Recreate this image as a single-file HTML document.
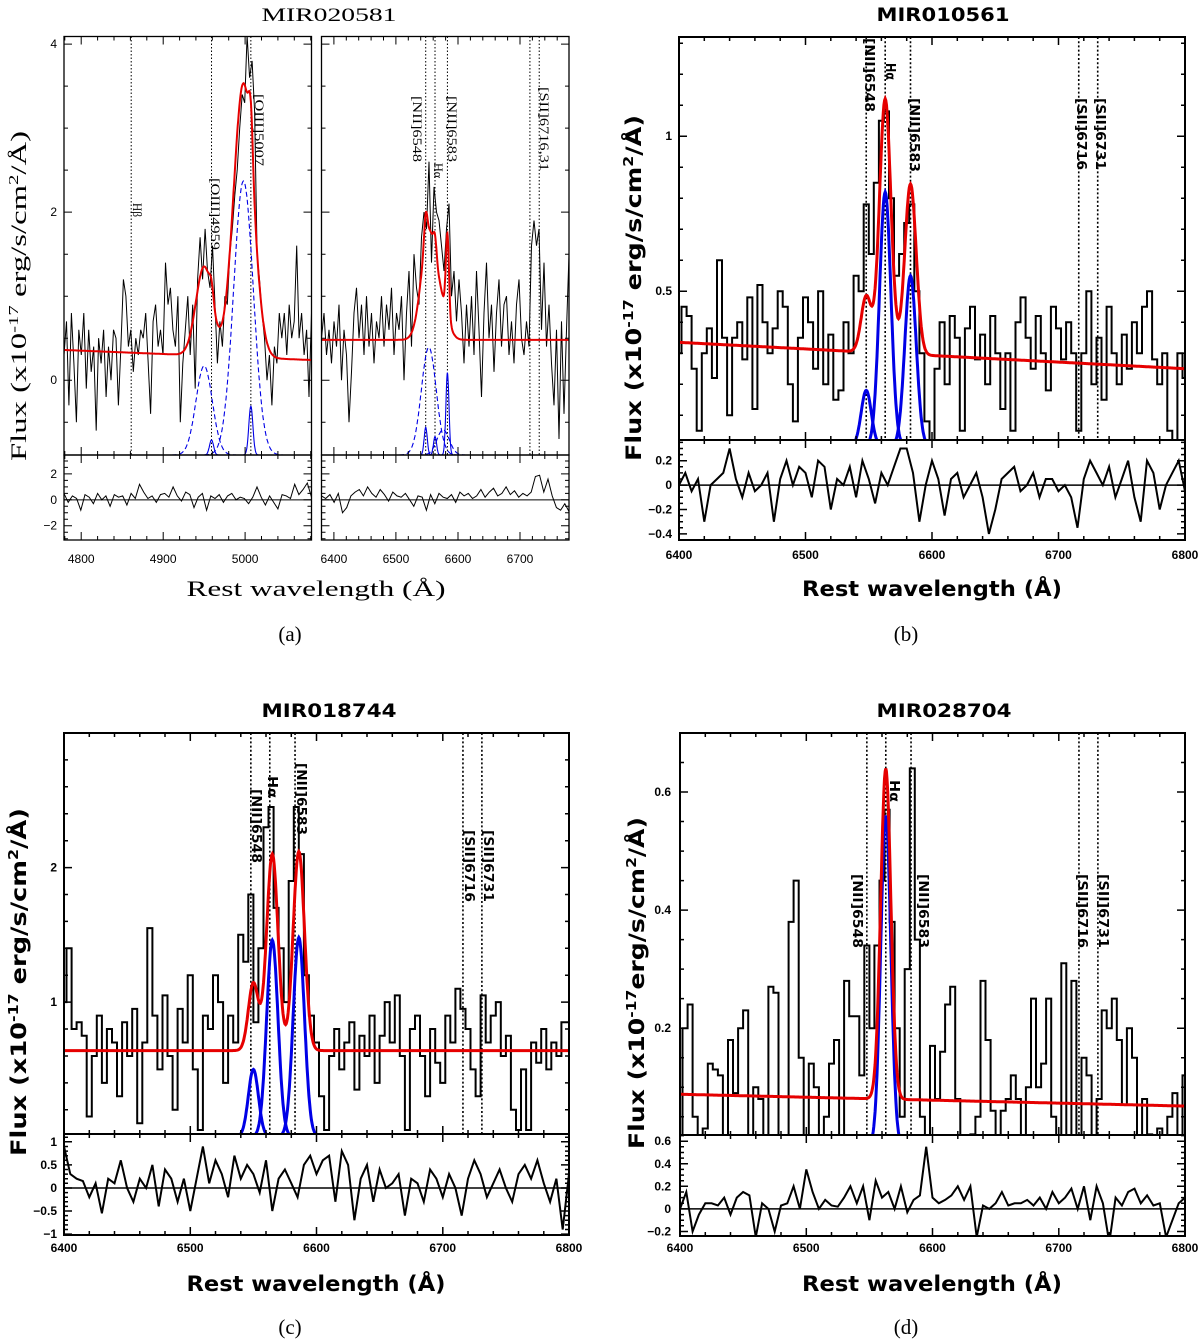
<!DOCTYPE html>
<html><head><meta charset="utf-8"><title>Emission line spectra fits</title>
<style>
html,body{margin:0;padding:0;background:#fff;}
svg{display:block;}
.ser{font-family:"Liberation Serif","DejaVu Serif",serif;}
.bold{font-family:"DejaVu Sans","Liberation Sans",sans-serif;font-weight:bold;}
.tick{font-family:"Liberation Sans",sans-serif;font-size:12px;}
.btick{font-family:"Liberation Sans",sans-serif;font-size:12px;font-weight:bold;}
</style></head>
<body>
<svg id="fig" width="1200" height="1344" viewBox="0 0 1200 1344" xmlns="http://www.w3.org/2000/svg">
<defs id="defs"></defs>
<rect x="0" y="0" width="1200" height="1344" fill="#fff"/>
<!-- Titles -->
<text class="ser" x="329" y="21" font-size="19" text-anchor="middle" textLength="135" lengthAdjust="spacingAndGlyphs">MIR020581</text>
<text class="bold" x="943" y="21" font-size="19" text-anchor="middle" textLength="133" lengthAdjust="spacingAndGlyphs">MIR010561</text>
<text class="bold" x="329" y="717" font-size="19" text-anchor="middle" textLength="135" lengthAdjust="spacingAndGlyphs">MIR018744</text>
<text class="bold" x="944" y="717" font-size="19" text-anchor="middle" textLength="135" lengthAdjust="spacingAndGlyphs">MIR028704</text>
<!-- x-axis titles -->
<text class="ser" x="316" y="596" font-size="22" text-anchor="middle" textLength="259" lengthAdjust="spacingAndGlyphs">Rest wavelength (Å)</text>
<text class="bold" x="932" y="596" font-size="21" text-anchor="middle" textLength="260" lengthAdjust="spacingAndGlyphs">Rest wavelength (Å)</text>
<text class="bold" x="316" y="1291" font-size="21" text-anchor="middle" textLength="259" lengthAdjust="spacingAndGlyphs">Rest wavelength (Å)</text>
<text class="bold" x="932" y="1291" font-size="21" text-anchor="middle" textLength="260" lengthAdjust="spacingAndGlyphs">Rest wavelength (Å)</text>
<!-- y-axis titles -->
<text class="ser" transform="translate(26,296) rotate(-90)" font-size="22" text-anchor="middle" textLength="330" lengthAdjust="spacingAndGlyphs">Flux (x10<tspan font-size="14" dy="-8">-17</tspan><tspan dy="8"> erg/s/cm</tspan><tspan font-size="14" dy="-8">2</tspan><tspan dy="8">/Å)</tspan></text>
<text class="bold" transform="translate(641,288) rotate(-90)" font-size="21" text-anchor="middle" textLength="346" lengthAdjust="spacingAndGlyphs">Flux (x10<tspan font-size="13" dy="-8">-17</tspan><tspan dy="8"> erg/s/cm</tspan><tspan font-size="13" dy="-8">2</tspan><tspan dy="8">/Å)</tspan></text>
<text class="bold" transform="translate(26,982) rotate(-90)" font-size="21" text-anchor="middle" textLength="348" lengthAdjust="spacingAndGlyphs">Flux (x10<tspan font-size="13" dy="-8">-17</tspan><tspan dy="8"> erg/s/cm</tspan><tspan font-size="13" dy="-8">2</tspan><tspan dy="8">/Å)</tspan></text>
<text class="bold" transform="translate(644,983) rotate(-90)" font-size="21" text-anchor="middle" textLength="332" lengthAdjust="spacingAndGlyphs">Flux (x10<tspan font-size="13" dy="-8">-17</tspan><tspan dy="8">erg/s/cm</tspan><tspan font-size="13" dy="-8">2</tspan><tspan dy="8">/Å)</tspan></text>
<!-- captions -->
<text class="ser" x="290" y="641" font-size="21" text-anchor="middle">(a)</text>
<text class="ser" x="906" y="641" font-size="21" text-anchor="middle">(b)</text>
<text class="ser" x="290" y="1334" font-size="21" text-anchor="middle">(c)</text>
<text class="ser" x="906" y="1334" font-size="21" text-anchor="middle">(d)</text>
</svg>
<script>
// ---------- DATA ----------
// Panel (a) left: [OIII] region
const aLeftRange = [4779, 5081];
const aLeftFlux = [0.3,0.7,-0.3,0.8,0.2,-0.5,0.6,0.3,0.8,-0.1,
 0.6,0.1,0.4,-0.6,0.5,0.2,0.6,-0.2,0.4,0.0,
 0.6,0.5,-0.3,0.4,1.2,1.0,0.4,0.6,0.1,0.5,
 0.3,0.6,0.5,0.8,0.2,-0.4,0.7,0.9,0.4,0.6,
 0.3,1.4,0.9,1.1,0.6,0.4,1.0,-0.5,0.2,0.6,
 1.0,0.3,0.9,-0.1,1.2,1.7,1.2,1.8,1.3,1.1,
 1.6,0.9,0.2,0.7,0.4,1.0,0.9,1.5,1.8,2.2,
 2.5,3.0,3.4,3.3,4.1,3.6,3.8,3.2,1.5,1.2,
 0.8,0.5,0.0,0.3,-0.3,0.4,0.2,0.8,0.5,0.8,
 0.3,0.9,0.5,0.7,1.6,0.5,0.8,0.3,0.6,-0.2,0.8];
const aLeftResid = [0.5,-0.2,0.3,0.1,-0.8,0.4,0.2,-0.3,0.5,0.0,0.3,-0.5,0.4,0.2,0.3,-0.4,0.5,0.1,1.2,0.6,0.1,0.3,-0.2,0.4,0.5,0.2,1.0,0.3,-0.1,0.6,0.4,-0.6,0.2,0.5,-0.8,0.3,0.1,0.4,-0.2,0.3,0.5,0.0,0.2,0.1,-0.3,0.2,1.0,0.2,-0.4,0.3,-0.2,-0.7,0.4,0.3,0.1,1.2,0.4,0.8,1.3,0.2];
const aLeftCont = [0.36, 0.24];
const aLeftCompCenter = [4950, 4998, 4959, 5007];
const aLeftCompAmp = [1.06, 3.26, 0.18, 0.58];
const aLeftCompSigma = [10, 12, 2.5, 2.5];
const aLeftCompDashed = [true, true, false, false];
const aLeftLines = [4861, 4959, 5007];
const aLeftLineLabels = ["Hβ", "[OIII]4959", "[OIII]5007"];

// Panel (a) right: Halpha region
const aRightRange = [6380, 6779];
const aRightFlux = [0.5,0.8,0.3,0.6,0.2,0.7,0.4,0.9,0.0,0.6,
 0.3,-0.5,0.1,0.8,1.1,0.5,0.9,0.3,1.0,0.4,
 0.8,0.2,0.7,0.5,1.0,0.4,0.9,0.6,1.1,0.3,
 0.8,0.6,1.0,0.0,0.8,1.3,0.4,1.5,1.1,0.9,
 1.7,2.0,1.8,2.6,1.4,2.3,2.0,1.9,1.6,1.3,
 1.8,2.1,1.0,1.3,0.7,1.2,0.8,0.2,0.9,0.4,
 1.0,0.3,1.3,0.6,-0.2,0.8,1.4,0.5,0.9,0.1,
 0.8,1.2,0.4,0.9,1.0,0.3,0.7,0.2,0.9,1.2,
 0.5,0.3,0.7,0.4,1.6,1.9,1.6,1.8,0.6,1.4,
 0.4,0.9,0.2,-0.3,0.6,-0.7,0.7,-0.4,0.6,1.5];
const aRightResid = [0.3,0.1,0.4,-0.2,0.5,-1.0,-0.6,0.3,0.6,0.8,0.3,1.0,0.5,0.2,0.8,0.4,-0.1,0.6,0.3,0.2,0.5,0.0,-0.5,0.3,0.2,-0.8,0.4,-0.3,0.5,0.2,0.1,0.4,-0.2,0.6,0.3,0.5,0.1,0.3,0.8,0.2,0.6,0.9,0.3,0.5,1.0,0.4,0.7,0.2,0.5,0.3,0.6,1.8,1.9,0.6,1.6,0.3,-0.6,-0.8,-0.3,-0.9];
const aRightCont = [0.48, 0.48];
const aRightCompCenter = [6553, 6576, 6548, 6563, 6583];
const aRightCompAmp = [1.28, 0.3, 0.33, 0.22, 0.98];
const aRightCompSigma = [12, 10, 2.5, 2.5, 2.5];
const aRightCompDashed = [true, true, false, false, false];
const aRightLines = [6548, 6563, 6583, 6716, 6731];
const aRightLineLabels = ["[NII]6548", "Hα", "[NII]6583", "[SII]6716,31", ""];

// Panel (b)
const bRange = [6400, 6800];
const bFlux = [0.30,0.45,0.42,0.25,0.05,0.30,0.38,0.22,0.60,0.35,
 0.10,0.35,0.40,0.28,0.48,0.12,0.52,0.40,0.30,0.38,
 0.50,0.45,0.20,0.08,0.35,0.48,0.40,0.25,0.50,0.20,
 0.36,0.15,0.18,0.40,0.30,0.55,0.50,0.78,0.62,0.85,
 1.05,1.08,0.80,0.55,0.62,0.72,0.78,0.50,0.30,0.08,
 0.02,0.25,0.40,0.20,0.42,0.35,0.05,0.38,0.45,0.28,
 0.36,0.20,0.42,0.30,0.12,0.30,0.05,0.40,0.48,0.35,
 0.25,0.42,0.30,0.18,0.45,0.38,0.28,0.40,0.30,0.05,
 0.30,0.50,0.20,0.35,0.15,0.45,0.30,0.20,0.36,0.25,
 0.40,0.30,0.45,0.50,0.28,0.20,0.30,0.05,0.02,0.30,0.22];
const bResid = [0.0,0.1,-0.05,0.05,-0.3,0.0,0.05,0.1,0.3,0.05,-0.1,0.1,-0.05,0.0,0.1,-0.3,0.05,0.2,0.0,0.15,0.1,-0.1,0.2,0.15,-0.2,0.05,0.0,0.15,-0.1,0.2,0.05,-0.15,0.1,0.0,0.15,0.3,0.3,0.1,-0.3,0.0,0.2,0.05,-0.25,0.05,0.1,-0.1,0.0,0.1,-0.1,-0.4,-0.2,0.05,0.1,0.15,-0.05,0.0,0.1,-0.1,0.05,0.05,-0.05,0.0,-0.1,-0.35,0.05,0.2,0.1,0.0,0.15,-0.1,0.05,0.2,-0.1,-0.3,0.2,0.1,-0.2,0.0,0.1,0.2,-0.05];
const bCont = [0.335, 0.25];
const bCompCenter = [6548, 6563, 6583];
const bCompAmp = [0.18, 0.82, 0.55];
const bCompSigma = [4, 4.5, 4.5];
const bLines = [6548, 6563, 6583, 6716, 6731];
const bLineLabels = ["[NII]6548", "Hα", "[NII]6583", "[SII]6716", "[SII]6731"];

// Panel (c)
const cRange = [6400, 6800];
const cFlux = [1.0,1.4,0.8,0.85,0.75,0.15,0.6,0.9,0.4,0.8,
 0.7,0.3,0.85,0.6,0.95,0.1,0.7,1.55,0.9,0.5,
 1.05,0.6,0.2,0.95,0.7,1.2,0.5,0.05,0.9,0.8,
 1.2,1.0,0.4,0.9,0.7,1.5,1.3,1.8,0.85,1.4,
 2.3,2.45,1.7,1.4,1.0,1.9,2.45,2.1,1.2,0.9,
 0.7,0.3,0.05,0.6,0.8,0.5,0.7,0.85,0.35,0.75,
 0.6,0.9,0.4,0.75,1.0,0.7,1.05,0.6,0.05,0.8,
 0.9,0.6,0.3,0.8,0.55,0.4,0.9,0.7,1.1,0.95,
 0.8,0.5,0.3,1.05,0.7,0.9,1.0,0.6,0.75,0.2,
 0.05,0.5,0.05,0.7,0.55,0.8,0.5,0.7,0.6,0.85,0.85];
const cResid = [0.9,0.3,0.2,0.15,-0.2,0.1,-0.55,0.2,0.1,0.6,0.0,-0.3,0.2,0.0,0.5,-0.4,0.4,0.2,-0.3,0.2,-0.5,0.2,0.9,0.1,0.6,0.3,-0.2,0.7,0.2,0.5,0.3,-0.1,0.6,-0.5,0.2,0.4,0.1,-0.2,0.5,0.7,0.3,0.6,0.7,-0.3,0.8,0.5,-0.7,0.2,0.5,-0.3,0.4,0.0,0.1,0.3,-0.6,0.2,0.1,-0.3,0.4,0.2,-0.2,0.3,0.0,-0.6,0.2,0.6,0.3,-0.2,0.1,0.4,0.0,-0.3,0.3,0.5,0.2,0.6,0.1,-0.3,0.2,-0.9,0.3];
const cCont = [0.64, 0.64];
const cCompCenter = [6550, 6565, 6586];
const cCompAmp = [0.5, 1.46, 1.48];
const cCompSigma = [4, 4.5, 4.5];
const cLines = [6548, 6563, 6583, 6716, 6731];
const cLineLabels = ["[NII]6548", "Hα", "[NII]6583", "[SII]6716", "[SII]6731"];

// Panel (d)
const dRange = [6400, 6800];
const dFlux = [0.0,0.2,0.24,0.05,0.0,0.03,0.14,0.13,0.12,0.0,
 0.18,0.09,0.2,0.23,0.0,0.1,0.08,0.0,0.27,0.26,
 0.0,0.0,0.38,0.45,0.15,0.0,0.14,0.1,0.0,0.05,
 0.14,0.18,0.0,0.28,0.22,0.22,0.12,0.34,0.2,0.34,
 0.45,0.57,0.38,0.2,0.05,0.3,0.64,0.35,0.05,0.0,
 0.17,0.08,0.16,0.24,0.27,0.08,0.0,0.0,0.02,0.05,
 0.28,0.18,0.06,0.0,0.06,0.08,0.12,0.08,0.0,0.1,
 0.25,0.1,0.14,0.25,0.05,0.0,0.31,0.0,0.28,0.0,
 0.15,0.12,0.0,0.08,0.23,0.2,0.25,0.18,0.07,0.2,
 0.15,0.0,0.08,0.02,0.0,0.03,0.0,0.05,0.09,0.0,0.12];
const dResid = [0.0,0.15,-0.2,-0.05,0.05,0.05,0.03,0.1,-0.05,0.1,0.15,0.12,-0.25,0.05,0.0,-0.2,0.03,0.05,0.2,0.0,0.35,0.15,0.0,0.08,0.03,0.02,0.1,0.2,0.05,0.2,-0.1,0.25,0.1,0.15,0.0,0.2,-0.03,0.08,0.12,0.55,0.1,0.05,0.08,0.12,0.2,0.08,0.2,-0.25,0.03,0.0,0.05,0.15,0.03,0.05,0.05,0.08,0.03,0.1,0.0,0.15,0.05,0.1,0.18,0.0,0.2,-0.1,0.2,0.05,-0.3,0.1,0.03,0.15,0.18,0.05,0.12,0.03,0.05,-0.25,-0.1,0.05,0.1];
const dCont = [0.088, 0.068];
const dCompCenter = [6563];
const dCompAmp = [0.56];
const dCompSigma = [4];
const dLines = [6548, 6563, 6583, 6716, 6731];
const dLineLabels = ["[NII]6548", "Hα", "[NII]6583", "[SII]6716", "[SII]6731"];

// ---------- RENDER ----------
const NS = "http://www.w3.org/2000/svg";
const svg = document.getElementById('fig');
const defs = document.getElementById('defs');
function mk(tag, parent) { const e = document.createElementNS(NS, tag); parent.appendChild(e); return e; }
function lin(d0, d1, r0, r1) { return v => r0 + (v - d0) * (r1 - r0) / (d1 - d0); }
let clipId = 0;
function clipRect(x, y, w, h) {
  const cp = mk('clipPath', defs); const id = 'cp' + (clipId++); cp.setAttribute('id', id);
  const r = mk('rect', cp); r.setAttribute('x', x); r.setAttribute('y', y); r.setAttribute('width', w); r.setAttribute('height', h);
  return 'url(#' + id + ')';
}
function gauss(x, c, a, s) { return a * Math.exp(-(x - c) * (x - c) / (2 * s * s)); }
function fmt(v) { const r = Math.round(v * 100) / 100; return (r < 0 ? '-' : '') + String(Math.abs(r)).replace(/^0\./, r === 0 ? '0.' : '0.'); }

function drawPanel(P) {
  const g = mk('g', svg);
  
  
  const X = lin(P.xd[0], P.xd[1], P.x0, P.x1);
  const Y = lin(P.yd[0], P.yd[1], P.split, P.top);
  const R = lin(P.rd[0], P.rd[1], P.bot, P.split);
  const w = P.x1 - P.x0;
  const clipTop = clipRect(P.x0, P.top, w, P.split - P.top);
  const clipRes = clipRect(P.x0, P.split, w, P.bot - P.split);
  const lw = P.thin ? 1 : 2;

  // dotted line markers
  P.lines.forEach((lam, i) => {
    const l = mk('line', g);
    
    
    l.setAttribute('x1', X(lam)); l.setAttribute('x2', X(lam));
    l.setAttribute('y1', P.top); l.setAttribute('y2', P.split);
    l.setAttribute('stroke', '#000'); l.setAttribute('stroke-width', P.thin ? 1 : 1.6);
    l.setAttribute('stroke-dasharray', P.thin ? '1.5,2' : '2,2.2');
    const lbl = P.lineLabels[i];
    if (lbl) {
      const t = mk('text', g);
      
      
      const lp = P.labelPos[i];
      t.setAttribute('transform', 'translate(' + lp[0] + ',' + lp[1] + ') rotate(90)');
      t.setAttribute('font-size', P.thin ? 13 : 13);
      t.setAttribute('class', P.thin ? 'ser' : 'bold');
      t.setAttribute('textLength', lp[2]);
      t.setAttribute('lengthAdjust', 'spacingAndGlyphs');
      t.textContent = lbl;
    }
  });

  // spectrum
  const n = P.flux.length;
  const step = (P.xd[1] - P.xd[0]) / (n - 1);
  let d = '';
  for (let i = 0; i < n; i++) {
    const lam = P.xd[0] + i * step;
    const y = Y(P.flux[i]);
    if (P.thin) { d += (i ? 'L' : 'M') + X(lam).toFixed(1) + ',' + y.toFixed(1); }
    else {
      const xa = X(lam - step / 2), xb = X(lam + step / 2);
      d += (i ? 'L' : 'M') + xa.toFixed(1) + ',' + y.toFixed(1) + 'L' + xb.toFixed(1) + ',' + y.toFixed(1);
    }
  }
  const sp = mk('path', g);
  
  
  sp.setAttribute('d', d); sp.setAttribute('fill', 'none'); sp.setAttribute('stroke', '#000');
  sp.setAttribute('stroke-width', P.thin ? 1 : 2); sp.setAttribute('stroke-linejoin', 'miter');
  sp.setAttribute('clip-path', clipTop);

  // components
  const base = P.compBase;
  P.compCenter.forEach((c, k) => {
    let cd = '';
    for (let lam = c - 4 * P.compSigma[k]; lam <= c + 4 * P.compSigma[k]; lam += 0.5) {
      cd += (cd ? 'L' : 'M') + X(lam).toFixed(1) + ',' + Y(base + gauss(lam, c, P.compAmp[k], P.compSigma[k])).toFixed(1);
    }
    const cp = mk('path', g);
    
    
    cp.setAttribute('d', cd); cp.setAttribute('fill', 'none'); cp.setAttribute('stroke', '#0000e6');
    cp.setAttribute('stroke-width', P.thin ? 1.1 : 3);
    if (P.compDashed && P.compDashed[k]) cp.setAttribute('stroke-dasharray', '5,3');
    cp.setAttribute('clip-path', clipTop);
  });

  // total fit
  let fd = '';
  for (let lam = P.xd[0]; lam <= P.xd[1] + 0.01; lam += 0.5) {
    let v = P.cont[0] + (P.cont[1] - P.cont[0]) * (lam - P.xd[0]) / (P.xd[1] - P.xd[0]);
    P.compCenter.forEach((c, k) => { v += gauss(lam, c, P.compAmp[k], P.compSigma[k]); });
    fd += (fd ? 'L' : 'M') + X(lam).toFixed(1) + ',' + Y(v).toFixed(1);
  }
  const fp = mk('path', g);
  
  
  fp.setAttribute('d', fd); fp.setAttribute('fill', 'none'); fp.setAttribute('stroke', '#e60000');
  fp.setAttribute('stroke-width', P.thin ? 2 : 3); fp.setAttribute('clip-path', clipTop);

  // residuals
  const rn = P.resid.length;
  const rstep = (P.xd[1] - P.xd[0]) / (rn - 1);
  let rd = '';
  for (let i = 0; i < rn; i++) rd += (i ? 'L' : 'M') + X(P.xd[0] + i * rstep).toFixed(1) + ',' + R(P.resid[i]).toFixed(1);
  const zl = mk('line', g);
  
  
  zl.setAttribute('x1', P.x0); zl.setAttribute('x2', P.x1); zl.setAttribute('y1', R(0)); zl.setAttribute('y2', R(0));
  zl.setAttribute('stroke', '#000'); zl.setAttribute('stroke-width', P.thin ? 1 : 1.5);
  const rp = mk('path', g);
  
  
  rp.setAttribute('d', rd); rp.setAttribute('fill', 'none'); rp.setAttribute('stroke', '#000');
  rp.setAttribute('stroke-width', P.thin ? 1 : 2); rp.setAttribute('clip-path', clipRes);

  // frames
  [[P.top, P.split], [P.split, P.bot]].forEach((b, j) => {
    const fr = mk('rect', g);
    
    
    fr.setAttribute('x', P.x0); fr.setAttribute('y', b[0]); fr.setAttribute('width', w); fr.setAttribute('height', b[1] - b[0]);
    fr.setAttribute('fill', 'none'); fr.setAttribute('stroke', '#000'); fr.setAttribute('stroke-width', P.thin ? 1.3 : 2);
  });

  // ticks
  let td = '';
  const eps = 1e-6;
  for (let v = Math.ceil(P.xd[0] / P.xMinor) * P.xMinor; v <= P.xd[1] + eps; v += P.xMinor) {
    const major = Math.abs(v / P.xMajor - Math.round(v / P.xMajor)) < eps;
    const L = major ? 8 : 4, x = X(v).toFixed(1);
    td += 'M' + x + ',' + P.top + 'v' + L + 'M' + x + ',' + P.split + 'v' + (-L) + 'M' + x + ',' + P.split + 'v' + L + 'M' + x + ',' + P.bot + 'v' + (-L);
  }
  function yTicks(dom, minor, majorStep, S, lo, hi) {
    for (let v = Math.ceil(dom[0] / minor - eps) * minor; v <= dom[1] + eps; v += minor) {
      const y = S(v); if (y < lo - 0.5 || y > hi + 0.5) continue;
      const major = Math.abs(v / majorStep - Math.round(v / majorStep)) < eps;
      const L = major ? 8 : 4;
      td += 'M' + P.x0 + ',' + y.toFixed(1) + 'h' + L + 'M' + P.x1 + ',' + y.toFixed(1) + 'h' + (-L);
    }
  }
  yTicks(P.yd, P.yMinor, P.yMajor, Y, P.top, P.split);
  yTicks(P.rd, P.rMinor, P.rMajor, R, P.split, P.bot);
  const tp = mk('path', g);
  
  
  tp.setAttribute('d', td); tp.setAttribute('stroke', '#000'); tp.setAttribute('stroke-width', P.thin ? 1 : 1.5); tp.setAttribute('fill', 'none');

  // tick labels
  const cls = P.thin ? 'tick' : 'btick';
  P.xLabels.forEach(v => {
    const t = mk('text', g);
    
    
    t.setAttribute('x', X(v)); t.setAttribute('y', P.xLabelY); t.setAttribute('text-anchor', 'middle'); t.setAttribute('class', cls);
    t.textContent = v;
  });
  P.yLabels.forEach(v => {
    const t = mk('text', g);
    
    
    t.setAttribute('x', P.yLabelX); t.setAttribute('y', Y(v) + 4); t.setAttribute('text-anchor', 'end'); t.setAttribute('class', cls);
    t.textContent = v;
  });
  P.rLabels.forEach(v => {
    const t = mk('text', g);
    
    
    t.setAttribute('x', P.yLabelX); t.setAttribute('y', R(v) + 4); t.setAttribute('text-anchor', 'end'); t.setAttribute('class', cls);
    t.textContent = v < 0 ? '−' + Math.abs(v) : v;
  });
}

drawPanel({name:'panel-a-oiii', thin:true, x0:64, x1:311.5, top:36.5, split:455, bot:540,
  xd:aLeftRange, yd:[-0.89,4.09], rd:[-3.1,3.46], compBase:-0.89,
  flux:aLeftFlux, resid:aLeftResid, cont:aLeftCont,
  compCenter:aLeftCompCenter, compAmp:aLeftCompAmp, compSigma:aLeftCompSigma, compDashed:aLeftCompDashed,
  lines:aLeftLines, lineLabels:aLeftLineLabels, labelPos:[[133,203,14],[211,178,72],[255,94,72]],
  xMinor:20, xMajor:100, yMinor:0.5, yMajor:2, rMinor:0.5, rMajor:2,
  xLabels:[4800,4900,5000], yLabels:[0,2,4], rLabels:[-2,0,2], xLabelY:563, yLabelX:57});
drawPanel({name:'panel-a-halpha', thin:true, x0:321.5, x1:569, top:36.5, split:455, bot:540,
  xd:aRightRange, yd:[-0.89,4.09], rd:[-3.1,3.46], compBase:-0.89,
  flux:aRightFlux, resid:aRightResid, cont:aRightCont,
  compCenter:aRightCompCenter, compAmp:aRightCompAmp, compSigma:aRightCompSigma, compDashed:aRightCompDashed,
  lines:aRightLines, lineLabels:aRightLineLabels, labelPos:[[413,96,66],[434,163,15],[448,96,66],[540,87,84],[0,0,0]],
  xMinor:20, xMajor:100, yMinor:0.5, yMajor:2, rMinor:0.5, rMajor:2,
  xLabels:[6400,6500,6600,6700], yLabels:[], rLabels:[], xLabelY:563, yLabelX:316});
drawPanel({name:'panel-b', thin:false, x0:679, x1:1185, top:37, split:440, bot:540,
  xd:bRange, yd:[0.02,1.32], rd:[-0.45,0.37], compBase:0,
  flux:bFlux, resid:bResid, cont:bCont,
  compCenter:bCompCenter, compAmp:bCompAmp, compSigma:bCompSigma,
  lines:bLines, lineLabels:bLineLabels, labelPos:[[865,38,74],[886,63,17],[910,98,74],[1077,98,72],[1096,98,72]],
  xMinor:20, xMajor:100, yMinor:0.1, yMajor:0.5, rMinor:0.05, rMajor:0.2,
  xLabels:[6400,6500,6600,6700,6800], yLabels:[0.5,1], rLabels:[-0.4,-0.2,0,0.2], xLabelY:559, yLabelX:672});
drawPanel({name:'panel-c', thin:false, x0:64, x1:569, top:733, split:1134, bot:1235,
  xd:cRange, yd:[0.02,3.0], rd:[-1.02,1.17], compBase:0,
  flux:cFlux, resid:cResid, cont:cCont,
  compCenter:cCompCenter, compAmp:cCompAmp, compSigma:cCompSigma,
  lines:cLines, lineLabels:cLineLabels, labelPos:[[252,789,74],[268,776,22],[297,763,72],[465,830,72],[484,830,72]],
  xMinor:20, xMajor:100, yMinor:0.2, yMajor:1, rMinor:0.1, rMajor:0.5,
  xLabels:[6400,6500,6600,6700,6800], yLabels:[1,2], rLabels:[-1,-0.5,0,0.5,1], xLabelY:1252, yLabelX:57});
drawPanel({name:'panel-d', thin:false, x0:680, x1:1185, top:733, split:1135, bot:1236,
  xd:dRange, yd:[0.019,0.7], rd:[-0.24,0.655], compBase:0,
  flux:dFlux, resid:dResid, cont:dCont,
  compCenter:dCompCenter, compAmp:dCompAmp, compSigma:dCompSigma,
  lines:dLines, lineLabels:dLineLabels, labelPos:[[853,874,74],[890,780,22],[919,874,74],[1078,874,74],[1099,874,74]],
  xMinor:20, xMajor:100, yMinor:0.05, yMajor:0.2, rMinor:0.05, rMajor:0.2,
  xLabels:[6400,6500,6600,6700,6800], yLabels:[0.2,0.4,0.6], rLabels:[-0.2,0,0.2,0.4,0.6], xLabelY:1252, yLabelX:671});
</script>
</body></html>
